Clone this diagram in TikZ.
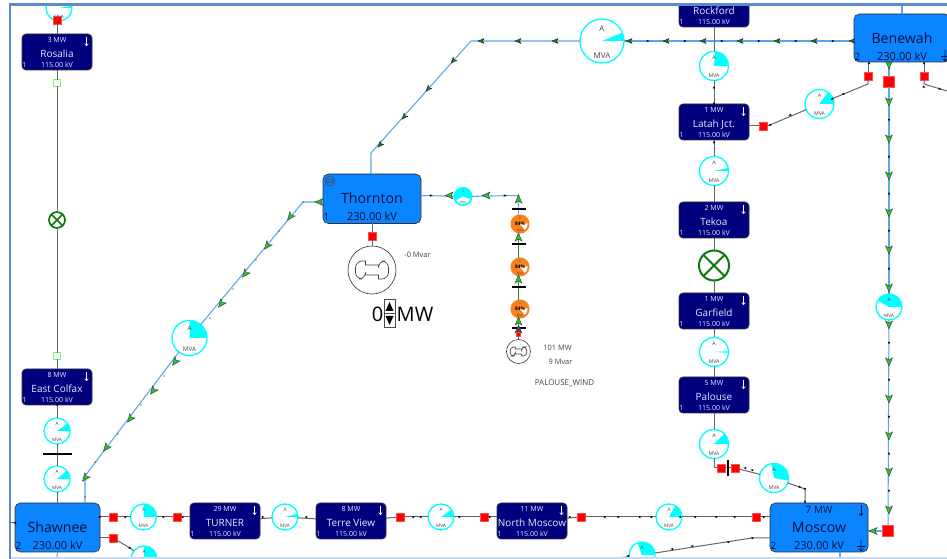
\documentclass[tikz,border=0pt]{standalone}
\usepackage{fontspec}
\setmainfont{Open Sans}
\usetikzlibrary{arrows.meta}
\definecolor{navybus}{HTML}{00007F}
\definecolor{lightbus}{HTML}{0A84FF}
\definecolor{bluel}{HTML}{5AA5EE}
\definecolor{grayl}{HTML}{666666}
\definecolor{frameb}{HTML}{5B8BC9}
\definecolor{framel}{HTML}{CBD9F0}
\definecolor{brgreen}{HTML}{22CC22}
\definecolor{dkgreen}{HTML}{147A14}
\definecolor{swgreen}{HTML}{0A7A0A}
\definecolor{orgm}{HTML}{F5821F}
\definecolor{cyanm}{HTML}{00FFFF}
\definecolor{lablc}{HTML}{444444}
\definecolor{bustxt}{HTML}{E8E8FF}
\definecolor{bigtxt}{HTML}{00103A}
\tikzset{
  x=0.75pt,y=-0.75pt,
  bluewire/.style={draw=bluel,line width=0.8pt},
  graywire/.style={draw=grayl,line width=0.75pt},
  greenwire/.style={draw=dkgreen!80!green,line width=0.8pt},
  smallbus/.style={draw=black!80,fill=navybus,rounded corners=3pt,line width=0.5pt,minimum width=52.5pt,minimum height=27pt,inner sep=0pt,outer sep=0pt},
  bigbus/.style={draw=black!80,fill=lightbus,rounded corners=4pt,line width=0.5pt,inner sep=0pt,outer sep=0pt},
  stxt/.style={anchor=base,text=bustxt,inner sep=0pt,font=\fontsize{5.3pt}{6pt}\selectfont},
  sname/.style={anchor=base,text=bustxt,inner sep=0pt,font=\fontsize{7.5pt}{9pt}\selectfont},
  btxt/.style={anchor=base,text=bigtxt,inner sep=0pt,font=\fontsize{8.3pt}{10pt}\selectfont},
  bname/.style={anchor=base,text=bigtxt,inner sep=0pt,font=\fontsize{10.6pt}{13pt}\selectfont},
  redsq/.style={draw=red!70!white,line width=0.2pt,fill=red,minimum size=#1*0.75pt,inner sep=0pt,outer sep=0pt},
  opensq/.style={draw=green!60!white,line width=0.8pt,fill=white,minimum size=5pt,inner sep=0pt,outer sep=0pt},
  barnode/.style={fill=black,inner sep=0pt,outer sep=0pt},
  lbl/.style={text=lablc,inner sep=0pt,font=\fontsize{5.6pt}{6pt}\selectfont},
}
% flow arrowhead: x y visual-angle fill
\newcommand{\fa}[4]{\begin{scope}[shift={(#1,#2)},rotate=#3]
  \filldraw[fill=#4,draw=black!75,line width=0.35pt] (4,0)--(-4,3.4)--(-2,0)--(-4,-3.4)--cycle;
\end{scope}}
% smaller dark arrowhead
\newcommand{\fb}[3]{\begin{scope}[shift={(#1,#2)},rotate=#3]
  \filldraw[fill=dkgreen,draw=black!85,line width=0.3pt] (3,0)--(-3,2.4)--(-1.6,0)--(-3,-2.4)--cycle;
\end{scope}}
\newcommand{\tk}[3]{\begin{scope}[shift={(#1,#2)},rotate=#3]
  \fill[black] (1.5,0)--(-1.2,1.1)--(-1.2,-1.1)--cycle;
\end{scope}}
% meter whose lower label is outside the picture: id x y r a b
\newcommand{\cmeter}[6]{%
  \node[circle,draw=cyanm,line width=1pt,fill=white,minimum size={2*#4*0.75pt},inner sep=0pt,outer sep=0pt] (#1) at (#2,#3) {};
  \fill[cyanm] (#2,#3) -- plot[domain=#5:#6,samples=16] ({#2+(#4-0.5)*cos(\x)},{#3-(#4-0.5)*sin(\x)}) -- cycle;
  \pgfmathsetmacro{\fsz}{#4*0.27}
  \node[text=lablc,inner sep=0pt,font=\fontsize{\fsz pt}{\fsz pt}\selectfont] (#1-a) at (#2,{#3-0.55*#4}) {A};
}
% meter: id x y r a b
\newcommand{\meter}[6]{%
  \cmeter{#1}{#2}{#3}{#4}{#5}{#6}
  \node[text=lablc,inner sep=0pt,font=\fontsize{\fsz pt}{\fsz pt}\selectfont] (#1-v) at (#2,{#3+0.65*#4}) {MVA};
}
% filled meter: id x y r basecolor textinside a b
\newcommand{\fmeter}[8]{%
  \node[circle,draw=#5,line width=0.8pt,fill=#5,minimum size={2*#4*0.75pt},inner sep=0pt,outer sep=0pt] (#1) at (#2,#3) {};
  \fill[white] (#2,#3) -- plot[domain=#7:#8,samples=12] ({#2+(#4-1.5)*cos(\x)},{#3-(#4-1.5)*sin(\x)}) -- cycle;
  \node[text=black,inner sep=0pt,font=\fontsize{3.6pt}{4pt}\selectfont\bfseries] (#1-t) at (#2,{#3-0.5}) {#6};
  \node[text=lablc,inner sep=0pt,font=\fontsize{2.2pt}{3pt}\selectfont] (#1-a) at (#2,{#3-5.5}) {A};
  \node[text=lablc,inner sep=0pt,font=\fontsize{2.2pt}{3pt}\selectfont] (#1-v) at (#2,{#3+6}) {MVA};
}
% small bus: id cx top mw name
\newcommand{\sbus}[5]{%
  \node[smallbus] (#1) at (#2,{#3+18}) {};
  \node[sname] (#1-name) at (#2,{#3+23.3}) {#5};
  \node[stxt] (#1-mw) at (#2,{#3+8.7}) {#4};
  \node[stxt] (#1-kv) at (#2,{#3+33.7}) {115.00 kV};
  \node[stxt] (#1-n) at ({#2-32.5},{#3+33.7}) {1};
  \draw[white,line width=0.45pt,-{>[length=2pt,width=3pt]}] ({#2+29.5},{#3+3}) -- ({#2+29.5},{#3+12});
}
% big bus: id cx top w h name num
\newcommand{\bbus}[7]{%
  \node[bigbus,minimum width={#4*0.75pt},minimum height={#5*0.75pt}] (#1) at (#2,{#3+#5/2}) {};
  \node[bname] (#1-name) at (#2,{#3+30}) {#6};
  \node[btxt] (#1-kv) at (#2,{#3+47}) {230.00 kV};
  \node[anchor=base,text=bigtxt,inner sep=0pt,font=\fontsize{7.5pt}{8pt}\selectfont] (#1-n) at ({#2-#4/2+3.5},{#3+47}) {#7};
}
\newcommand{\loadsym}[2]{%
  \draw[bigtxt,line width=0.5pt] (#1,{#2-6}) -- (#1,{#2+5}) ({#1-4},{#2+0.5}) -- ({#1+4},{#2+0.5}) ({#1-2.5},{#2+2.5}) -- (#1,{#2+5}) -- ({#1+2.5},{#2+2.5});
}
\newcommand{\gensym}[4]{\begin{scope}[shift={(#1,#2)},scale=#3]
  \draw[black!75,line width=#4] (-6.5,-5)--(-6.5,-9)[rounded corners={#3*5pt}]--(-16.5,-9)--(-16.5,9)--(-6.5,9)[sharp corners]--(-6.5,5)--(6.5,5)--(6.5,9)[rounded corners={#3*5pt}]--(16.5,9)--(16.5,-9)--(6.5,-9)[sharp corners]--(6.5,-5)--cycle;
\end{scope}}
\newcommand{\swx}[5]{%
  \node[circle,draw=swgreen,line width=#5,fill=white,minimum size={2*#4*0.75pt},inner sep=0pt,outer sep=0pt] (#1) at (#2,#3) {};
  \draw[swgreen,line width=#5] ({#2-0.71*#4},{#3-0.71*#4}) -- ({#2+0.71*#4},{#3+0.71*#4}) ({#2-0.71*#4},{#3+0.71*#4}) -- ({#2+0.71*#4},{#3-0.71*#4});
}
\begin{document}
\begin{tikzpicture}
\useasboundingbox (0,0) rectangle (947,559);
\fill[white] (0,0) rectangle (947,559);
\begin{scope}
\clip (11,6) rectangle (947,557);
% buses
\sbus{rosalia}{57}{34}{3 MW}{Rosalia}
\sbus{colfax}{57}{369}{8 MW}{East Colfax}
\sbus{turner}{225}{503}{29 MW}{TURNER}
\sbus{terre}{351}{503}{8 MW}{Terre View}
\sbus{nmoscow}{532}{503}{11 MW}{North Moscow}
\sbus{rockford}{714}{-9}{}{Rockford}
\sbus{latah}{714}{104}{1 MW}{Latah Jct.}
\sbus{tekoa}{714}{202}{2 MW}{Tekoa}
\sbus{garfield}{714}{293}{1 MW}{Garfield}
\sbus{palouse}{714}{377}{5 MW}{Palouse}
\bbus{shawnee}{57.5}{503}{85}{49}{Shawnee}{2}
\bbus{thornton}{372}{174}{98}{49.5}{Thornton}{1}
\bbus{benewah}{902}{14}{96}{48}{Benewah}{2}
\bbus{moscow}{819}{503}{98}{49}{Moscow}{2}
\node[anchor=base,text=bigtxt,inner sep=0pt,font=\fontsize{7.5pt}{8pt}\selectfont] (moscow-mw) at (819,514) {7 MW};
\draw[bigtxt,line width=0.5pt,-{>[length=2pt,width=3.5pt]}] (861,505) -- (861,516);
\loadsym{861}{546}
\loadsym{945}{56}
% thornton generator badge
\node[circle,draw=black!70,line width=0.4pt,minimum size=7.5pt,inner sep=0pt,outer sep=0pt] (thbadge) at (330,181) {};
\gensym{330}{181}{0.22}{0.3pt}
% meters
\meter{m0}{59}{8}{13}{0}{10}
\meter{mcol1}{57}{431}{13}{0}{35}
\meter{mcol2}{57}{479}{13}{0}{40}
\meter{mtur}{143.5}{517}{13}{0}{90}
\cmeter{mlow}{144}{559}{13}{0}{90}
\meter{mter}{285}{517}{13}{0}{15}
\meter{mnm}{441}{517}{13}{0}{35}
\meter{mmo}{669}{517}{13}{0}{60}
\cmeter{mmo2}{642}{555}{13}{0}{110}
\meter{mdiag}{189.5}{338}{17.5}{0}{90}
\meter{mbig}{602}{41}{22}{0}{22}
\meter{mrock}{714}{66}{14.5}{0}{85}
\meter{mlb}{819.5}{104}{14.5}{0}{55}
\meter{mlt}{714}{171}{14.5}{0}{12}
\meter{mgp}{714}{352}{14.5}{-3}{3}
\meter{mpal}{714}{444}{14.5}{0}{45}
\meter{mpm}{774}{478}{14.5}{-10}{100}
\meter{mben}{889}{307}{13}{0}{150}
\fmeter{mth}{463}{196.5}{9}{cyanm}{}{-150}{-20}
\fmeter{o1}{520}{224}{9}{orgm}{84\%}{-50}{5}
\fmeter{o2}{520}{267}{9}{orgm}{84\%}{-50}{5}
\fmeter{o3}{520}{309}{9}{orgm}{84\%}{-50}{5}
% generators
\node[circle,draw=black!75,line width=0.5pt,fill=white,minimum size=36pt,inner sep=0pt,outer sep=0pt] (gen1) at (372,270) {};
\gensym{372}{270}{1}{0.5pt}
\node[circle,draw=black!75,line width=0.5pt,fill=white,minimum size=18pt,inner sep=0pt,outer sep=0pt] (gen2) at (518.5,351.5) {};
\gensym{518.5}{351.5}{0.5}{0.5pt}
% switches
\swx{swa}{57}{220}{8}{1.3pt}
\swx{swb}{714}{265.5}{15}{1.5pt}
% red and open squares
\node[redsq=8] (r0) at (57,20) {};
\node[opensq] (g1) at (57,83) {};
\node[opensq] (g2) at (57,356) {};
\node[redsq=8] (rs1) at (113,517) {};
\node[redsq=8] (rs2) at (113,538) {};
\node[redsq=8] (rt) at (177,517) {};
\node[redsq=8] (rtv) at (400,517) {};
\node[redsq=8] (rnm1) at (484,517) {};
\node[redsq=8] (rnm2) at (581,517) {};
\node[redsq=8] (rm1) at (756,517) {};
\node[redsq=8] (rl) at (763,126) {};
\node[redsq=8] (rb1) at (868,76) {};
\node[redsq=8] (rb3) at (924,76) {};
\node[redsq=11] (rb2) at (889,82) {};
\node[redsq=11] (rb4) at (888,531) {};
\node[redsq=8] (rp1) at (721,468) {};
\node[redsq=8] (rp2) at (735,468) {};
\node[redsq=8] (rth) at (372,236) {};
\node[redsq=4] (rw) at (518.5,334) {};
% bars
\node[barnode,minimum width=21.75pt,minimum height=2pt] (bar0) at (57,454) {};
\node[barnode,minimum width=2pt,minimum height=12pt] (bar5) at (728,468) {};
\node[barnode,minimum width=11pt,minimum height=2pt] (bar1) at (519,209) {};
\node[barnode,minimum width=11pt,minimum height=2pt] (bar2) at (519,244) {};
\node[barnode,minimum width=11pt,minimum height=2pt] (bar3) at (519,287) {};
\node[barnode,minimum width=11pt,minimum height=2pt] (bar4) at (519,328) {};
% connector corners
\coordinate (c1) at (471,41);
\coordinate (c2) at (371,153);
\coordinate (c3) at (303,202);
\coordinate (c4) at (85,476);
\coordinate (c5) at (518.5,195.5);
\coordinate (c6) at (868,84);
\coordinate (c7) at (770,125);
\coordinate (c8) at (924,84);
\coordinate (c9) at (947,91);
\coordinate (c10) at (714,468);
\coordinate (c11) at (788,483);
\coordinate (c12) at (805,489);
\coordinate (c13) at (752,538);
\coordinate (c14) at (618,558);
\coordinate (c15) at (130,548);
\coordinate (ct) at (902,0);
\coordinate (cbm) at (840,557);
\coordinate (cbs) at (57,557);
\coordinate (csl) at (11,523);
% blue wires
\draw[bluewire] (benewah.west |- mbig.east) -- (mbig.east);
\draw[bluewire] (mbig.west) -- (c1) -- (c2) -- (thornton.north -| c2);
\draw[bluewire] (thornton.west |- c3) -- (c3) -- (mdiag);
\draw[bluewire] (mdiag) -- (c4) -- (shawnee.north -| c4);
\draw[bluewire] (thornton.east |- c5) -- (mth);
\draw[bluewire] (mth) -- (c5) -- (bar1.north -| c5);
\draw[bluewire] (bar1.south -| c5) -- (o1.north -| c5);
\draw[bluewire] (benewah.south -| rb2) -- (rb2);
\draw[bluewire] (rb2) -- (mben);
\draw[bluewire] (mben) -- (rb4);
\draw[bluewire] (rb4) -- (moscow.east |- rb4);
\draw[bluewire] (benewah.north -| ct) -- (ct);
\draw[bluewire] (moscow.south -| cbm) -- (cbm);
\draw[bluewire] (shawnee.south) -- (cbs);
% green wires
\draw[greenwire] (o1.south -| c5) -- (bar2.north -| c5);
\draw[greenwire] (bar2.south -| c5) -- (o2.north -| c5);
\draw[greenwire] (o2.south -| c5) -- (bar3.north -| c5);
\draw[greenwire] (bar3.south -| c5) -- (o3.north -| c5);
\draw[greenwire] (o3.south -| c5) -- (bar4.north -| c5);
\draw[graywire] (bar4.south -| c5) -- (rw.north);
\draw[graywire] (rw.south) -- (gen2.north);
% gray wires
\draw[graywire] (m0) -- (r0);
\draw[graywire] (r0) -- (rosalia);
\draw[graywire] (rosalia) -- (g1);
\draw[graywire] (g1) -- (swa);
\draw[graywire] (swa) -- (g2);
\draw[graywire] (g2) -- (colfax);
\draw[graywire] (colfax) -- (mcol1);
\draw[graywire] (mcol1) -- (bar0);
\draw[graywire] (bar0) -- (mcol2);
\draw[graywire] (mcol2) -- (shawnee.north -| mcol2);
\draw[graywire] (shawnee.east |- rs1) -- (rs1);
\draw[graywire] (rs1) -- (mtur);
\draw[graywire] (mtur) -- (rt);
\draw[graywire] (rt) -- (turner.west |- rt);
\draw[graywire] (turner) -- (mter);
\draw[graywire] (mter) -- (terre);
\draw[graywire] (terre) -- (rtv);
\draw[graywire] (rtv) -- (mnm);
\draw[graywire] (mnm) -- (rnm1);
\draw[graywire] (rnm1) -- (nmoscow.west |- rnm1);
\draw[graywire] (nmoscow) -- (rnm2);
\draw[graywire] (rnm2) -- (mmo);
\draw[graywire] (mmo) -- (rm1);
\draw[graywire] (rm1) -- (moscow.west |- rm1);
\draw[graywire] (shawnee.east |- rs2) -- (rs2);
\draw[graywire] (rs2) -- (c15) -- (mlow);
\draw[graywire] (moscow.west |- c13) -- (c13) -- (mmo2);
\draw[graywire] (mmo2) -- (c14);
\draw[graywire] (rockford) -- (mrock);
\draw[graywire] (mrock) -- (latah);
\draw[graywire] (latah) -- (mlt);
\draw[graywire] (mlt) -- (tekoa);
\draw[graywire] (tekoa) -- (swb);
\draw[graywire] (swb) -- (garfield);
\draw[graywire] (garfield) -- (mgp);
\draw[graywire] (mgp) -- (palouse);
\draw[graywire] (palouse) -- (mpal);
\draw[graywire] (mpal) -- (c10) -- (rp1);
\draw[graywire] (rp1) -- (bar5);
\draw[graywire] (bar5) -- (rp2);
\draw[graywire] (rp2) -- (mpm);
\draw[graywire] (mpm) -- (c11) -- (c12) -- (moscow.north -| c12);
\draw[graywire] (latah.east |- rl) -- (rl);
\draw[graywire] (rl) -- (c7) -- (mlb);
\draw[graywire] (mlb) -- (c6) -- (rb1);
\draw[graywire] (rb1) -- (benewah.south -| rb1);
\draw[graywire] (benewah.south -| rb3) -- (rb3);
\draw[graywire] (rb3) -- (c8) -- (c9);
\draw[graywire] (thornton.south -| rth) -- (rth);
\draw[graywire] (rth) -- (gen1);
\draw[graywire] (csl) -- (shawnee.west |- csl);
% arrows: Benewah-Thornton
\foreach \x in {852,814,777,740,703,666,629,555,518,481} \fb{\x}{41}{180};
\foreach \x in {833,796,759,722,685,648} \tk{\x}{41}{0};
\foreach \x/\y in {380/145,404/117,428/89,453/61} \fb{\x}{\y}{-131.8};
% Thornton-Shawnee
\fa{319}{202}{180}{brgreen}
\foreach \x/\y in {290/217,267/246,245/274,221/304,175/362,153/391,130/419,106/448,85/478} \fa{\x}{\y}{-128.5}{brgreen};
\foreach \x/\y in {279/231,256/260,233/289,210/318,164/376,141/405,118/434,95/462,85/497} \fill[black] (\x,\y) circle (0.55pt);
\fill[black] (303,202) circle (0.5pt);
% Benewah vertical
\foreach \y in {65,102,139,176,213,250,288,325,362,399,436,472,510} \fa{889}{\y}{-90}{brgreen};
\foreach \y in {120,157,194,231,269,343,380,417,454,491} \tk{889}{\y}{-90};
\fa{873}{531}{180}{brgreen}
% wind column
\foreach \x in {449,486} \fa{\x}{195.5}{180}{brgreen};
\foreach \x in {431,505} \tk{\x}{195.5}{0};
\foreach \y in {199,237,279,321} \fa{518.5}{\y}{90}{brgreen};
\fa{518.5}{329}{90}{black!70}
% gray-wire ticks
\foreach \x/\y/\a in {57/405/-90,15/523/180,100/517/0,125/517/180,163/517/180,183/517/0,263/517/0,306/517/180,413/517/180,421/517/0,459/517/180,490/517/0,570/517/0,605/517/0,618/517/180,640/517/0,651/517/180,680/517/180,695/517/180,716/517/180,735/517/0,764/517/0,130/548/-20,714/88/-90,714/103/90,714/142/90,869/63/90,924/63/90,843/94/-160,832/99/-160,790/115/-160,770/125/-160,924/87/-15,940/89/-15,805/489/-90,805/502/-90,800/487/-15,745/468/170,752/470/170,752/538/170,728/542/170,692/546/170,672/549/170,628/556/170} \tk{\x}{\y}{\a};
\end{scope}
% texts
\node[lbl] (t1) at (417.5,255) {-0 Mvar};
\node[lbl] (t2) at (557.5,348) {101 MW};
\node[lbl] (t3) at (560.5,362) {9 Mvar};
\node[lbl,font=\fontsize{6pt}{7pt}\selectfont] (t4) at (564.5,383.5) {PALOUSE\_WIND};
\node[anchor=base,inner sep=0pt,font=\fontsize{15pt}{16pt}\selectfont] (zero) at (377.5,322) {0};
\node[anchor=base,inner sep=0pt,font=\fontsize{15pt}{16pt}\selectfont] (mwt) at (415,322) {MW};
\node[draw=black!70,line width=0.5pt,fill=white,minimum width=8.5pt,minimum height=20.5pt,inner sep=0pt,outer sep=0pt] (spin) at (389.5,313.5) {};
\draw[black!70,line width=0.5pt] (spin.west) -- (spin.east);
\fill[black] (385.5,311) -- (393.5,311) -- (389.5,302) -- cycle;
\fill[black] (385.5,316) -- (393.5,316) -- (389.5,325) -- cycle;
% frame
\draw[framel,line width=1.2pt] (10,558) -- (947,558);
\draw[frameb,line width=1.6pt] (10,559) -- (10,4.5) -- (947,4.5);
\end{tikzpicture}
\end{document}
